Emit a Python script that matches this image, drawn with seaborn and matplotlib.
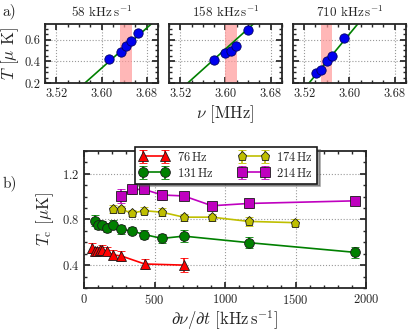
import numpy as np
import pandas as pd
import matplotlib.pyplot as plt
import seaborn as sns
from matplotlib.ticker import MultipleLocator

# ---- data: panel a) temperature vs RF frequency for three ramp rates
ramp_titles = [r"58 kHz$\,$s$^{-1}$", r"158 kHz$\,$s$^{-1}$", r"710 kHz$\,$s$^{-1}$"]
nu_58 = [3.614, 3.634, 3.644, 3.653, 3.664]
T_58 = [0.42, 0.484, 0.54, 0.587, 0.663]
nu_158 = [3.580, 3.599, 3.609, 3.618, 3.640]
T_158 = [0.41, 0.481, 0.496, 0.541, 0.69]
nu_710 = [3.541, 3.549, 3.561, 3.569, 3.590]
T_710 = [0.296, 0.326, 0.40, 0.454, 0.61]
T_err_a = [0.02, 0.02, 0.02, 0.02, 0.025]
nu_err_a = [0.003, 0.003, 0.003, 0.003, 0.003]
# linear fits: slope [uK/MHz] and zero crossing [MHz]
fit_slope = [4.59, 4.64, 6.25]
fit_nu0 = [3.5263, 3.4894, 3.496]
# shaded transition band [MHz]
band_lo = [3.633, 3.600, 3.549]
band_hi = [3.654, 3.620, 3.570]

# ---- data: panel b) critical temperature vs ramp rate
rate_76 = [55, 75, 95, 115, 130, 160, 205, 265, 430, 710]
Tc_76 = [0.55, 0.52, 0.52, 0.53, 0.535, 0.52, 0.49, 0.48, 0.41, 0.40]
err_76 = [0.04, 0.04, 0.04, 0.03, 0.04, 0.04, 0.04, 0.04, 0.045, 0.06]
rate_131 = [78, 97, 125, 160, 203, 262, 337, 427, 554, 707, 1167, 1921]
Tc_131 = [0.79, 0.754, 0.755, 0.726, 0.755, 0.714, 0.70, 0.668, 0.634, 0.654, 0.597, 0.512]
err_131 = [0.045, 0.04, 0.035, 0.04, 0.04, 0.04, 0.03, 0.04, 0.04, 0.05, 0.05, 0.05]
rate_174 = [203, 262, 337, 427, 554, 707, 907, 1167, 1497]
Tc_174 = [0.891, 0.891, 0.855, 0.877, 0.863, 0.82, 0.82, 0.783, 0.772]
err_174 = [0.035, 0.03, 0.025, 0.03, 0.035, 0.03, 0.03, 0.04, 0.03]
rate_214 = [262, 337, 427, 554, 707, 907, 1167, 1921]
Tc_214 = [1.006, 1.063, 1.063, 1.014, 1.006, 0.92, 0.94, 0.963]
err_214 = [0.06, 0.04, 0.03, 0.04, 0.03, 0.03, 0.04, 0.02]
trap_labels = ["76$\\,$Hz", "131$\\,$Hz", "174$\\,$Hz", "214$\\,$Hz"]

sns.set_theme(style="ticks")
plt.rcParams.update({
    "font.family": ["cmr10", "DejaVu Serif"],
    "mathtext.fontset": "cm",
    "axes.formatter.use_mathtext": True,
    "font.size": 9,
    "axes.linewidth": 1.3,
    "xtick.direction": "in",
    "ytick.direction": "in",
    "xtick.top": True,
    "ytick.right": True,
    "xtick.major.size": 4,
    "ytick.major.size": 4,
    "xtick.minor.size": 2,
    "ytick.minor.size": 2,
    "xtick.labelsize": 9,
    "ytick.labelsize": 9,
})

fig = plt.figure(figsize=(4.16, 3.31), dpi=100)

grid_kw = dict(color="0.6", linestyle=":", linewidth=0.8)

# ---- panel a)
nus = [nu_58, nu_158, nu_710]
Ts = [T_58, T_158, T_710]
lefts = [0.108, 0.406, 0.704]
for i in range(3):
    ax = fig.add_axes([lefts[i], 0.748, 0.272, 0.179])
    ax.axvspan(band_lo[i], band_hi[i], color="#ff9999", alpha=0.7, lw=0, zorder=1)
    nu_line = np.array([3.50, 3.70])
    sns.lineplot(x=nu_line, y=fit_slope[i] * (nu_line - fit_nu0[i]), color="green",
                 lw=1.2, ax=ax, zorder=2)
    ax.errorbar(nus[i], Ts[i], yerr=T_err_a, xerr=nu_err_a, fmt="none",
                ecolor="#8888ff", elinewidth=1, capsize=0, zorder=3)
    sns.scatterplot(x=nus[i], y=Ts[i], color="#0000ee", edgecolor="#000066",
                    s=45, linewidth=0.6, ax=ax, zorder=4)
    ax.set_xlim(3.50, 3.70)
    ax.set_ylim(0.2, 0.74)
    ax.set_xticks([3.52, 3.60, 3.68])
    ax.set_yticks([0.2, 0.4, 0.6])
    ax.xaxis.set_minor_locator(MultipleLocator(0.02))
    ax.yaxis.set_minor_locator(MultipleLocator(0.05))
    ax.grid(True, **grid_kw)
    ax.set_title(ramp_titles[i], fontsize=9.5, pad=5)
    if i == 0:
        ax.set_ylabel(r"$T$ [$\mu$ K]", labelpad=2)
        ax.set_yticklabels(["0.2", "0.4", "0.6"])
    else:
        ax.set_yticklabels([])
    ax.set_xticklabels(["3.52", "3.60", "3.68"])
    if i == 1:
        ax.set_xlabel(r"$\nu$ [MHz]", labelpad=2)

# ---- panel b)
axb = fig.add_axes([0.202, 0.13, 0.678, 0.414])
series = [
    (rate_76, Tc_76, err_76, "#ff0000", "^", 6.5),
    (rate_131, Tc_131, err_131, "#008000", "o", 7),
    (rate_174, Tc_174, err_174, "#bfbf00", "p", 6.5),
    (rate_214, Tc_214, err_214, "#bf00bf", "s", 7),
]
handles = []
for (x, y, e, c, m, ms), lab in zip(series, trap_labels):
    h = axb.errorbar(x, y, yerr=e, fmt="-" + m, color=c, mec="k", mew=0.6,
                     ms=ms, lw=1.2, elinewidth=1.2, capsize=3, capthick=1.2,
                     label=lab)
    handles.append(h)
axb.set_xlim(0, 2000)
axb.set_ylim(0.2, 1.4)
axb.set_xticks([0, 500, 1000, 1500, 2000])
axb.set_yticks([0.4, 0.8, 1.2])
axb.xaxis.set_minor_locator(MultipleLocator(100))
axb.yaxis.set_minor_locator(MultipleLocator(0.1))
axb.grid(True, **grid_kw)
axb.set_xlabel(r"$\partial\nu/\partial t$ [kHz$\,$s$^{-1}$]", labelpad=1)
axb.set_ylabel(r"$T_{\rm c}$ [$\mu$K]", labelpad=4)
leg = axb.legend(handles=handles, ncol=2, loc="upper center",
                 bbox_to_anchor=(0.504, 1.075), numpoints=2, fancybox=False,
                 shadow=True, framealpha=1, edgecolor="k", fontsize=9,
                 handlelength=2.4, columnspacing=2.0, borderpad=0.3,
                 labelspacing=0.25, handletextpad=0.6)
leg.get_frame().set_linewidth(1.2)

fig.text(0.005, 0.955, "a)", fontsize=11)
fig.text(0.005, 0.435, "b)", fontsize=11)

fig.savefig("out.png", dpi=100)
